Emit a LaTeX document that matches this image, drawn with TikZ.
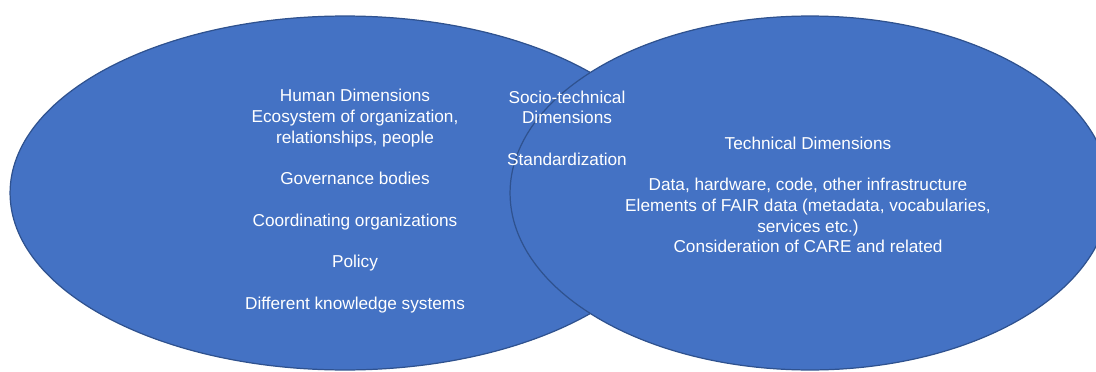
\documentclass[tikz,border=0pt]{standalone}
\usepackage{fontspec}
\setmainfont{Liberation Sans}
\usetikzlibrary{shapes.geometric}
\definecolor{vennblue}{HTML}{4472C4}
\definecolor{vennline}{HTML}{2F528F}

\begin{document}
\begin{tikzpicture}[x=0.02cm, y=-0.02cm,
	venn/.style={ellipse, draw=vennline, line width=0.7pt, fill=vennblue,
		inner sep=0pt, minimum height=7.08cm},
	txt/.style={text=white, align=center, font=\fontsize{9.8}{11.8}\selectfont}]
	\useasboundingbox (0,0) rectangle (1096,372);
	% the two sets
	\node[venn, minimum width=13.4cm] (human) at (345,193) {};
	\node[venn, minimum width=12cm] (tech) at (810,193) {};
	% texts
	\node[txt] (humantxt) at (355,201) {Human Dimensions\\Ecosystem of organization,\\relationships, people\\[11.8pt]
		Governance bodies\\[11.8pt]Coordinating organizations\\[11.8pt]Policy\\[11.8pt]Different knowledge systems};
	\node[txt] (socio) at (567,128) {Socio-technical\\Dimensions\\[11.8pt]Standardization};
	\node[txt] (techtxt) at (808,195) {Technical Dimensions\\[11.8pt]Data, hardware, code, other infrastructure\\
		Elements of FAIR data (metadata, vocabularies,\\services etc.)\\Consideration of CARE and related};
\end{tikzpicture}
\end{document}
